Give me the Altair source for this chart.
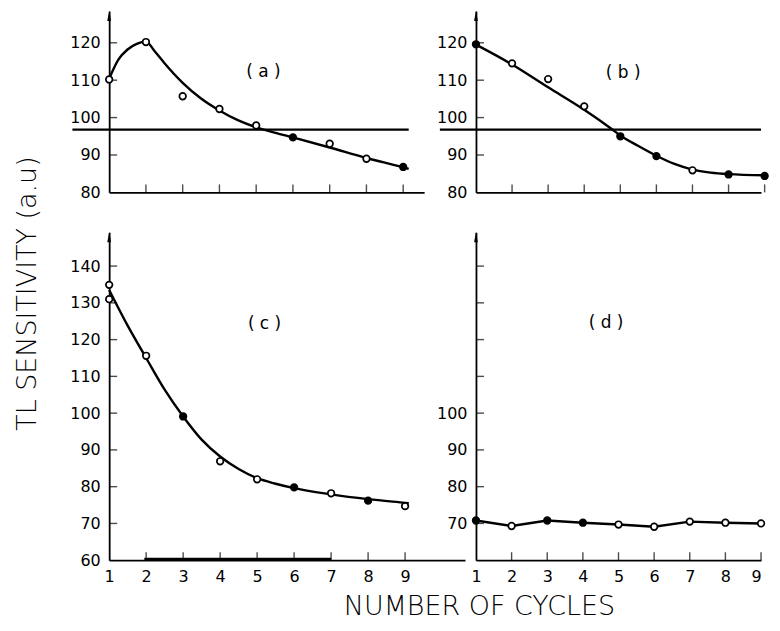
import altair as alt
import pandas as pd

CYCLES = [1, 2, 3, 4, 5, 6, 7, 8, 9]

# panel (a)
A_VALUES = [110.2, 120.2, 105.7, 102.3, 97.9, 94.7, 93.0, 89.0, 86.8]
A_FILLED = [0, 0, 0, 0, 0, 1, 0, 0, 1]
A_CURVE_X = [1, 1.25, 1.5, 1.75, 2, 2.25, 2.5, 3, 3.5, 4, 4.5, 5, 5.5, 6, 7, 8, 9, 9.15]
A_CURVE_Y = [110.4, 115.5, 118.2, 119.7, 120.3, 117.6, 114.6, 109.3, 105.1, 101.9,
             99.3, 97.4, 96.0, 94.7, 92.0, 89.2, 86.7, 86.3]

# panel (b)
B_VALUES = [119.6, 114.5, 110.3, 103.0, 95.0, 89.7, 85.9, 84.8, 84.4]
B_FILLED = [1, 0, 0, 0, 1, 1, 0, 1, 1]
B_CURVE_X = [1, 2, 3, 4, 4.78, 5, 5.5, 6, 6.5, 7, 7.5, 8, 9]
B_CURVE_Y = [119.5, 114.2, 108.1, 102.1, 96.8, 95.2, 92.4, 89.8, 87.6, 86.1, 85.3, 84.9, 84.6]

# panel (c)
C_VALUES = [134.9, 115.6, 99.1, 86.9, 82.0, 79.8, 78.2, 76.2, 74.7]
C_FILLED = [0, 0, 1, 0, 0, 1, 0, 1, 0]
C_EXTRA_X = [1]
C_EXTRA_Y = [131.0]
C_CURVE_X = [1, 1.5, 2, 2.5, 3, 3.5, 4, 4.5, 5, 5.5, 6, 7, 8, 9, 9.1]
C_CURVE_Y = [133.5, 123.8, 115.0, 106.4, 99.1, 92.8, 88.2, 84.8, 82.3, 80.8, 79.6,
             77.9, 76.6, 75.6, 75.5]

# panel (d)
D_VALUES = [70.8, 69.3, 70.8, 70.2, 69.7, 69.1, 70.5, 70.2, 70.0]
D_FILLED = [1, 0, 1, 1, 0, 0, 0, 0, 0]

REF_LEVEL = 96.8

X_TICKS = [2, 3, 4, 5, 6, 7, 8, 9]
X_LABELS = [1, 2, 3, 4, 5, 6, 7, 8, 9]
Y_TICKS_AB = [90, 100, 110, 120]
Y_LABELS_AB = [80, 90, 100, 110, 120]
Y_TICKS_CD = [70, 80, 90, 100, 110, 120, 130, 140]
Y_LABELS_C = [60, 70, 80, 90, 100, 110, 120, 130, 140]
Y_LABELS_D = [70, 80, 90, 100]

FONT = "DejaVu Sans"
LBL = 16


def panel(vals, filled, cx, cy, xdom, ydom, w, h, ylabels, yticks, label, lx, ly,
          show_xlabels, hline=None, extra=None, interp="monotone", xtitle=None,
          ytitle=None, artifact=None, flush_last=False):
    xs = alt.Scale(domain=xdom, nice=False, zero=False)
    ys = alt.Scale(domain=ydom, nice=False, zero=False)
    xax_kw = dict(values=X_LABELS, labels=show_xlabels, ticks=False, grid=False,
                  domainColor="black", domainWidth=1.8, labelFont=FONT, labelFontSize=LBL,
                  labelColor="black", labelPadding=8, labelFlush=False, format="d",
                  title=None)
    if flush_last:
        xax_kw.update(labelAlign={"condition": {"test": "datum.value == 9", "value": "right"},
                                  "value": "center"})
    if xtitle is not None:
        xax_kw.update(title=xtitle[0], titleX=xtitle[1], titleY=xtitle[2],
                      titleFont=FONT, titleFontSize=27, titleFontWeight=300,
                      titleColor="black", titleBaseline="middle", titleAlign="center")
    yax_kw = dict(values=ylabels, ticks=False, grid=False, domainColor="black",
                  domainWidth=1.8, labelFont=FONT, labelFontSize=LBL, labelColor="black",
                  labelPadding=9, labelFlush=False, format="d", title=None)
    if ytitle is not None:
        yax_kw.update(title=ytitle[0], titleX=ytitle[1], titleY=ytitle[2],
                      titleFont=FONT, titleFontSize=27, titleFontWeight=300,
                      titleColor="black", titleBaseline="middle", titleAlign="center",
                      titleAngle=270)
    xax = alt.Axis(**xax_kw)
    yax = alt.Axis(**yax_kw)
    X = lambda f="x": alt.X(f"{f}:Q", scale=xs, axis=xax)
    Y = lambda f="y": alt.Y(f"{f}:Q", scale=ys, axis=yax)

    layers = []
    curve = pd.DataFrame({"x": cx, "y": cy})
    layers.append(alt.Chart(curve).mark_line(color="black", strokeWidth=2.4,
                                             interpolate=interp).encode(x=X(), y=Y()))
    if hline is not None:
        hl = pd.DataFrame({"x": [hline[0]], "x2": [hline[1]], "y": [REF_LEVEL]})
        layers.append(alt.Chart(hl).mark_rule(color="black", strokeWidth=2.2).encode(
            x=X(), x2="x2:Q", y=Y()))
    if artifact is not None:
        ar = pd.DataFrame({"x": [artifact[0]], "x2": [artifact[1]], "y": [ydom[0]]})
        layers.append(alt.Chart(ar).mark_rule(color="black", strokeWidth=3.0, yOffset=-1).encode(
            x=X(), x2="x2:Q", y=Y()))
    xt = pd.DataFrame({"x": X_TICKS})
    layers.append(alt.Chart(xt).mark_tick(orient="vertical", size=8, thickness=1.4,
                                          color="black", yOffset=-4).encode(
        x=X(), y=alt.value(h)))
    yt = pd.DataFrame({"y": yticks})
    layers.append(alt.Chart(yt).mark_tick(orient="horizontal", size=8, thickness=1.4,
                                          color="black", xOffset=4).encode(
        x=alt.value(0), y=Y()))
    # arrow at top of the y axis
    arr = pd.DataFrame({"y": [ydom[1]]})
    layers.append(alt.Chart(arr).mark_point(shape="M0,-1L0.38,1L-0.38,1Z", size=100,
                                            filled=True, color="black", opacity=1,
                                            yOffset=5).encode(
        x=alt.value(0), y=Y()))
    px = list(CYCLES)
    py = list(vals)
    pf = list(filled)
    if extra is not None:
        px += extra[0]
        py += extra[1]
        pf += [0] * len(extra[0])
    pts = pd.DataFrame({"x": px, "y": py, "f": pf})
    layers.append(alt.Chart(pts).mark_point(shape="circle", size=44, filled=True,
                                            stroke="black", strokeWidth=1.7, opacity=1).encode(
        x=X(), y=Y(),
        fill=alt.condition("datum.f == 1", alt.value("black"), alt.value("white"))))
    lab = pd.DataFrame({"x": [lx], "y": [ly], "t": [label]})
    layers.append(alt.Chart(lab).mark_text(font=FONT, fontSize=17, color="black").encode(
        x=X(), y=Y(), text="t:N"))
    return alt.layer(*layers).properties(width=w, height=h)


pa = panel(A_VALUES, A_FILLED, A_CURVE_X, A_CURVE_Y, [1, 9.57], [80, 128.5], 316, 182,
           Y_LABELS_AB, Y_TICKS_AB, "( a )", 5.2, 112.3, False, hline=(0, 9.15))
pb = panel(B_VALUES, B_FILLED, B_CURVE_X, B_CURVE_Y, [1, 8.9], [80, 128.5], 286, 182,
           Y_LABELS_AB, Y_TICKS_AB, "( b )", 5.08, 112.0, False, hline=(0, 8.9))
pc = panel(C_VALUES, C_FILLED, C_CURVE_X, C_CURVE_Y, [1, 10.62], [60, 149.2], 357, 329,
           Y_LABELS_C, Y_TICKS_CD, "( c )", 5.2, 124.2, True, extra=(C_EXTRA_X, C_EXTRA_Y),
           xtitle=("NUMBER OF CYCLES", 371, 46),
           ytitle=("TL SENSITIVITY (a.u)", -82, 61), artifact=(1.95, 7.0))
pd_ = panel(D_VALUES, D_FILLED, CYCLES, D_VALUES, [1, 9.0], [60, 149.2], 286, 329,
            Y_LABELS_D, Y_TICKS_CD, "( d )", 4.65, 124.4, True, interp="linear",
            flush_last=True)

chart = alt.concat(pa, pb, pc, pd_, columns=2).properties(
    spacing={"row": 40, "column": 11}, bounds="flush", align="each",
    padding={"left": 5.5, "top": 2, "right": 0, "bottom": 0},
    background="white",
).configure_view(stroke=None)

chart.save("out.html", embed_options={"renderer": "svg", "actions": False})
